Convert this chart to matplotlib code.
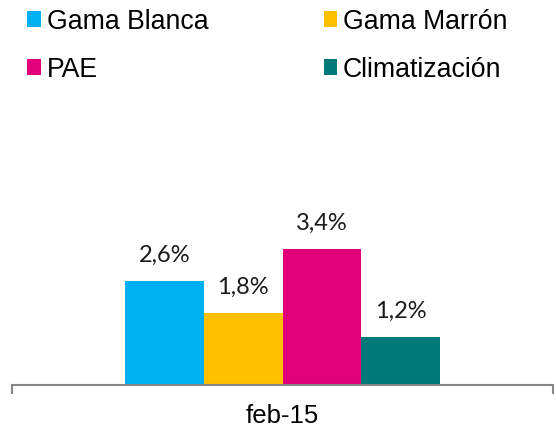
import matplotlib
matplotlib.use("Agg")
import matplotlib.pyplot as plt
from matplotlib.patches import Patch

# ── data ──────────────────────────────────────────────────────────────────────
categories = ["Gama Blanca", "Gama Marrón", "PAE", "Climatización"]
values = [2.6, 1.8, 3.4, 1.2]
labels = ["2,6%", "1,8%", "3,4%", "1,2%"]
period = "feb-15"

COLORS = ["#00B0F0", "#FFC000", "#E2007A", "#007A78"]
AXIS_GRAY = "#868686"

# ── figure ────────────────────────────────────────────────────────────────────
fig = plt.figure(figsize=(5.56, 4.35), dpi=100)
ax = fig.add_axes([12 / 556, 49 / 435, 541 / 556, 200 / 435])

bar_w = 0.1456
n = len(values)
for i, (v, c, lab) in enumerate(zip(values, COLORS, labels)):
    x = (i - (n - 1) / 2) * bar_w
    ax.bar(x, v, width=bar_w, color=c, linewidth=0)
    ax.annotate(lab, xy=(x, v), xytext=(0, 11.5), textcoords="offset points",
                ha="center", va="bottom", fontsize=17, family="Lato",
                color="#1a1a1a")

ax.set_xlim(-0.5, 0.5)
ax.set_ylim(0, 5)

for side in ("top", "right", "left"):
    ax.spines[side].set_visible(False)
ax.spines["bottom"].set_color(AXIS_GRAY)
ax.spines["bottom"].set_linewidth(1.5)
ax.set_yticks([])

ax.set_xticks([0])
ax.set_xticklabels([period], fontsize=18.5, family="Liberation Sans")
ax.tick_params(axis="x", which="major", length=0, pad=13)
ax.set_xticks([-0.5, 0.5], minor=True)
ax.tick_params(axis="x", which="minor", length=6.5, width=1.5,
               color=AXIS_GRAY, direction="out")

# legend, reordered so the two columns read row by row
order = [0, 2, 1, 3]
handles = [Patch(facecolor=COLORS[i], edgecolor="none") for i in order]
fig.legend(handles, [categories[i] for i in order],
           loc="upper left", bbox_to_anchor=(22 / 556, 1 - 4 / 435),
           ncol=2, frameon=False,
           prop={"family": "Liberation Sans", "size": 19.2},
           handlelength=0.52, handleheight=0.52, handletextpad=0.2,
           columnspacing=4.33, labelspacing=0.82, borderaxespad=0,
           borderpad=0.2)

fig.savefig("out.png", dpi=100)
